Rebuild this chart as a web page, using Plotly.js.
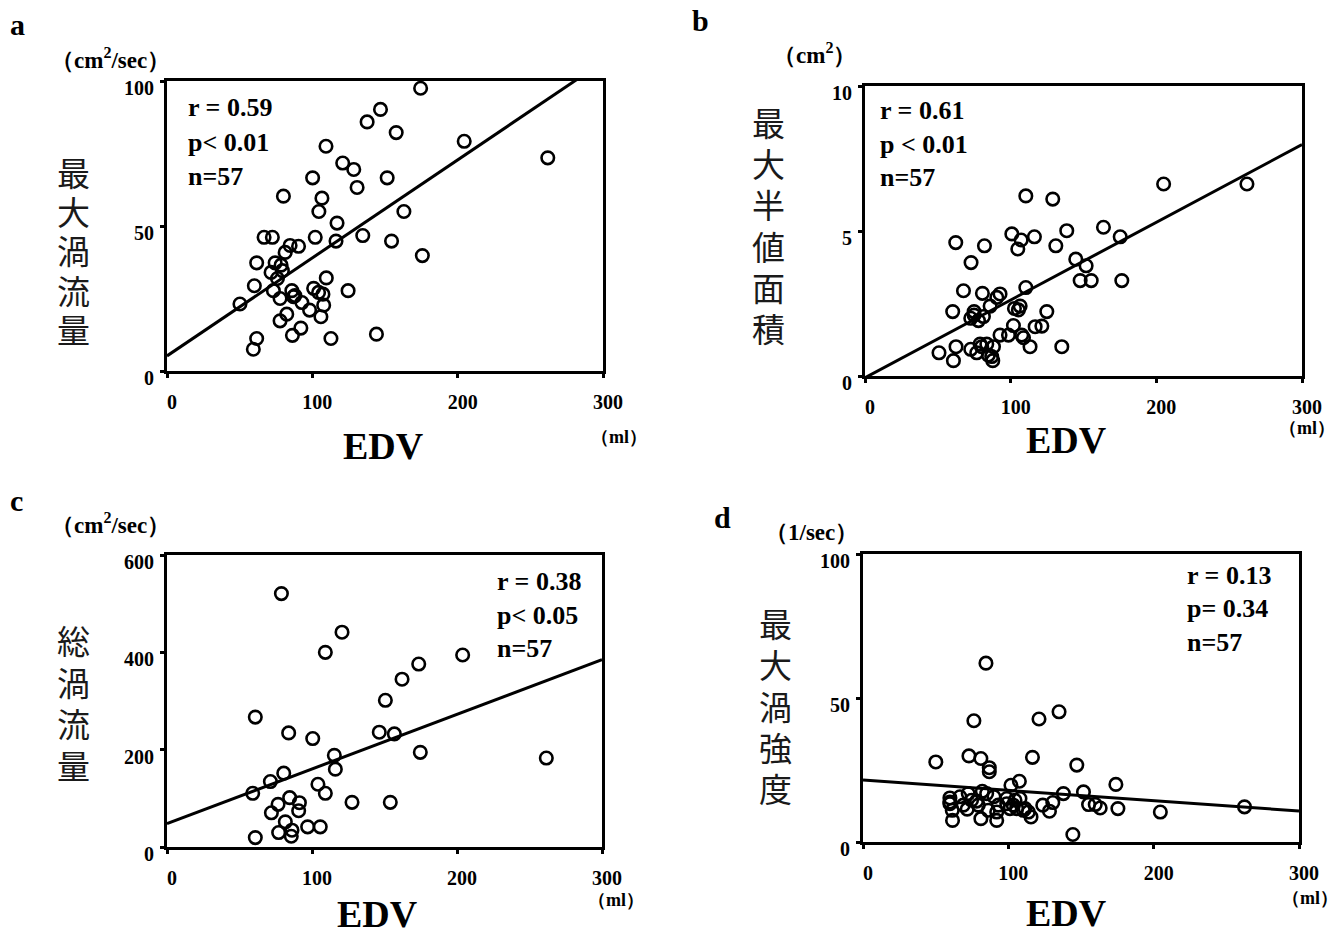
<!DOCTYPE html>
<html>
<head>
<meta charset="utf-8">
<script src="https://cdn.plot.ly/plotly-3.0.1.min.js"></script>
<style>html,body{margin:0;padding:0;background:#fff}#chart{width:1344px;height:936px}</style>
</head>
<body>
<div id="chart"></div>
<script>
// ---------- DATA ----------
// Panel a: 最大渦流量 (cm2/sec) vs EDV (ml)
const aEDV = [174.5,146.9,137.7,157.7,204.5,262,109.4,120.9,128.5,100.2,151.5,130.8,80.1,106.6,104.5,163,117,66.8,72.5,102,116.3,134.7,154.5,175.7,84.7,90.5,81.3,61.7,74.4,79.4,71.6,76,109.6,60.1,73.2,85.9,100.9,107.3,124.6,50.2,77.8,87,92.8,98.1,107.8,105.9,82.4,77.8,92.1,86.3,112.8,144.1,61.7,59.4,104.3,78.5,88];
const aVal = [97.5,90.2,85.9,82.2,79.2,73.5,77.5,71.7,69.5,66.6,66.6,63.3,60.3,59.6,55.0,55.0,51.0,46.1,46.1,46.1,44.8,46.7,44.8,39.8,43.3,43.0,40.9,37.3,37.3,34.6,34.0,31.9,32.1,29.4,27.7,27.7,28.5,26.5,27.7,23.1,25.0,25.6,23.6,21.0,22.7,18.7,19.6,17.3,14.8,12.3,11.2,12.7,11.2,7.5,27.1,36.5,26.0];
const aFit = {intercept: 5.2, slope: 0.338};
const aStats = ["r = 0.59", "p< 0.01", "n=57"];

// Panel b: 最大半値面積 (cm2) vs EDV (ml)
const bEDV = [205,262.2,110.4,128.9,163.7,138.5,100.8,116.3,175.2,107.2,62.3,82,131,104.9,72.8,144.7,151.8,147.7,155.3,176.3,110.4,67.6,80.6,90.5,92.7,85.9,102.6,106.5,60.2,124.8,74.9,81.3,72.6,77.9,101.9,116.8,121.4,92.7,98.5,107.6,108.8,79,83.6,88.2,62.5,113.3,135.1,72.6,76.7,50.8,84.7,60.7,87.7,80.1,87,74.9,105.3];
const bVal = [6.62,6.62,6.21,6.10,5.13,5.01,4.90,4.80,4.80,4.69,4.60,4.49,4.49,4.38,3.91,4.03,3.80,3.29,3.29,3.29,3.05,2.94,2.85,2.71,2.83,2.41,2.33,2.41,2.22,2.22,2.22,2.05,1.99,1.91,1.74,1.70,1.72,1.41,1.41,1.41,1.32,1.10,1.10,1.01,1.01,1.01,1.01,0.92,0.80,0.80,0.72,0.53,0.53,1.01,0.67,2.10,2.28];
const bFit = {intercept: -0.06, slope: 0.0268};
const bStats = ["r = 0.61", "p < 0.01", "n=57"];

// Panel c: 総渦流量 (cm2/sec) vs EDV (ml)
const cEDV = [78.9,120.7,109.2,203.9,173.6,162.1,150.6,60.9,83.9,100.5,146.4,156.8,115.4,174.7,261.6,116.1,80.5,71.3,59.1,104.1,109.2,84.6,91.3,76.6,127.6,154,90.8,72,81.6,86.2,97,105.7,77,85.7,60.9];
const cVal = [520.7,441.4,400,394.5,375.9,344.8,301.4,266.9,234.5,222.8,235.9,232.4,188.3,194.5,182.8,160,151.7,134.5,110.3,129,110.3,101.4,91,87.6,91.7,91.7,74.5,70.3,51.7,34.5,41.4,41.4,29.7,22.1,19.3];
const cFit = {intercept: 48, slope: 1.123};
const cStats = ["r = 0.38", "p< 0.05", "n=57"];

// Panel d: 最大渦強度 (1/sec) vs EDV (ml)
const dEDV = [84.6,134.9,121.1,76.3,50.1,72.9,81.1,116.6,147.1,86.9,86.9,174,107.6,101.8,137.9,151.7,82.1,72.4,59.8,66.7,90.1,98.9,108,78.2,59.8,130.6,123.7,155.2,159.8,163.2,175.4,204.6,262.5,61.4,71.7,86.2,92,103.4,105.7,110.3,113.8,128.3,115.6,81.1,92,61.6,144.4,74.7,79.3,98.9,104.6,111.5,85.1,69,93.1,101.1,59.8];
const dVal = [62.1,45.2,42.7,42.1,27.8,29.9,29.0,29.4,26.7,25.8,24.4,20.0,21.1,19.7,16.8,17.4,17.6,16.8,15.3,15.7,15.7,15.1,15.1,14.2,13.3,13.7,12.8,13.0,13.0,11.8,11.6,10.4,12.2,11.0,11.4,11.0,10.4,12.8,11.6,11.0,10.4,10.7,8.7,8.1,7.5,7.5,2.6,14.5,12.8,13.3,14.5,11.6,16.8,12.8,12.8,11.6,13.9];
const dFit = {intercept: 21.5, slope: -0.0358};
const dStats = ["r = 0.13", "p= 0.34", "n=57"];

const xRange = [0, 300];
const xTicks = [0, 100, 200, 300];
const yTicksA = [0, 50, 100];
const yTicksB = [0, 5, 10];
const yTicksC = [0, 200, 400, 600];
const yTicksD = [0, 50, 100];

const yTitles = ["最大渦流量", "最大半値面積", "総渦流量", "最大渦強度"];
const yUnits = ["（cm<sup>2</sup>/sec）", "（cm<sup>2</sup>）", "（cm<sup>2</sup>/sec）", "（1/sec）"];
const panelLetters = ["a", "b", "c", "d"];
const xTitle = "EDV";
const xUnit = "（ml）";

// ---------- BUILD ----------
const W = 1344, H = 936;
const PX = v => v / W;
const PY = v => 1 - v / H;
const serif = "Liberation Serif, Times New Roman, serif";

const panels = [
  {x: aEDV, y: aVal, fit: aFit, yr: [0, 100], yt: yTicksA, stats: aStats},
  {x: bEDV, y: bVal, fit: bFit, yr: [0, 10], yt: yTicksB, stats: bStats},
  {x: cEDV, y: cVal, fit: cFit, yr: [0, 600], yt: yTicksC, stats: cStats},
  {x: dEDV, y: dVal, fit: dFit, yr: [0, 100], yt: yTicksD, stats: dStats}
];

// plot area boxes in pixels [left, right, top, bottom]
const boxes = [
  [167, 603, 81, 371],
  [865, 1302, 86, 376],
  [167, 602, 555, 847],
  [863, 1299, 554, 842]
];

const traces = [];
const layout = {
  width: W, height: H,
  margin: {l: 0, r: 0, t: 0, b: 0},
  paper_bgcolor: "#fff", plot_bgcolor: "#fff",
  showlegend: false,
  annotations: []
};

panels.forEach((p, i) => {
  const sx = i === 0 ? "" : String(i + 1);
  const xa = "x" + sx, ya = "y" + sx;
  traces.push({
    type: "scatter", mode: "markers", x: p.x, y: p.y, xaxis: xa, yaxis: ya,
    marker: {symbol: "circle-open", size: 12.5, color: "#000", line: {width: 2.6, color: "#000"}},
    cliponaxis: false, hoverinfo: "skip"
  });
  traces.push({
    type: "scatter", mode: "lines", x: xRange,
    y: xRange.map(v => p.fit.intercept + p.fit.slope * v),
    xaxis: xa, yaxis: ya, line: {color: "#000", width: 3}, hoverinfo: "skip"
  });
  const b = boxes[i];
  const common = {
    showline: true, mirror: true, linecolor: "#000", linewidth: 3,
    showgrid: false, zeroline: false, ticks: "outside", ticklen: 4, tickwidth: 3, tickcolor: "#000",
    tickfont: {family: serif, size: 20, color: "#000", weight: "bold"}, fixedrange: true
  };
  layout["xaxis" + sx] = Object.assign({}, common, {
    domain: [PX(b[0]), PX(b[1])], range: xRange, tickvals: xTicks, anchor: ya,
    ticklabelstandoff: 7, ticklabelshift: 5
  });
  layout["yaxis" + sx] = Object.assign({}, common, {
    domain: [PY(b[3]), PY(b[2])], range: p.yr, tickvals: p.yt, anchor: xa,
    ticklabelstandoff: 2, ticklabelshift: 7
  });
});

function ann(text, x, y, size, opts) {
  layout.annotations.push(Object.assign({
    text: text, xref: "paper", yref: "paper", x: PX(x), y: PY(y),
    xanchor: "center", yanchor: "middle", showarrow: false,
    font: {family: serif, size: size, color: "#000", weight: "bold"}
  }, opts || {}));
}

// panel letters
const letterPos = [[17, 24], [700, 20], [16, 500], [722, 517]];
panelLetters.forEach((t, i) => ann(t, letterPos[i][0], letterPos[i][1], 30));

// units
const unitPos = [[110, 58], [814, 53], [110, 523], [811, 532]];
yUnits.forEach((t, i) => ann(t, unitPos[i][0], unitPos[i][1], 23));

// vertical CJK titles, one character per annotation
const titleGeom = [[73, 171.7, 39.3], [768, 121.7, 41.3], [73, 640, 41.7], [775, 623, 41.25]];
yTitles.forEach((t, i) => {
  t.split("").forEach((ch, k) => ann(ch, titleGeom[i][0], titleGeom[i][1] + k * titleGeom[i][2], 33,
    {font: {family: "Noto Sans CJK JP", size: 33, color: "#1a1a1a"}, height: 36, valign: "middle"}));
});

// EDV titles and (ml)
const edvPos = [[383, 446], [1066, 440], [377, 914], [1066, 913]];
edvPos.forEach(p => ann(xTitle, p[0], p[1], 38));
const mlPos = [[619, 437], [1307, 428], [616, 900], [1310, 898]];
mlPos.forEach(p => ann(xUnit, p[0], p[1], 18));

// stats
const statPos = [[186, [107, 142, 176]], [878, [110, 144, 177]], [495, [581, 615, 648]], [1185, [575, 608, 642]]];
panels.forEach((p, i) => {
  p.stats.forEach((s, j) => ann(s, statPos[i][0], statPos[i][1][j], 26, {xanchor: "left"}));
});

Plotly.newPlot("chart", traces, layout, {staticPlot: true, displayModeBar: false});
</script>
</body>
</html>
